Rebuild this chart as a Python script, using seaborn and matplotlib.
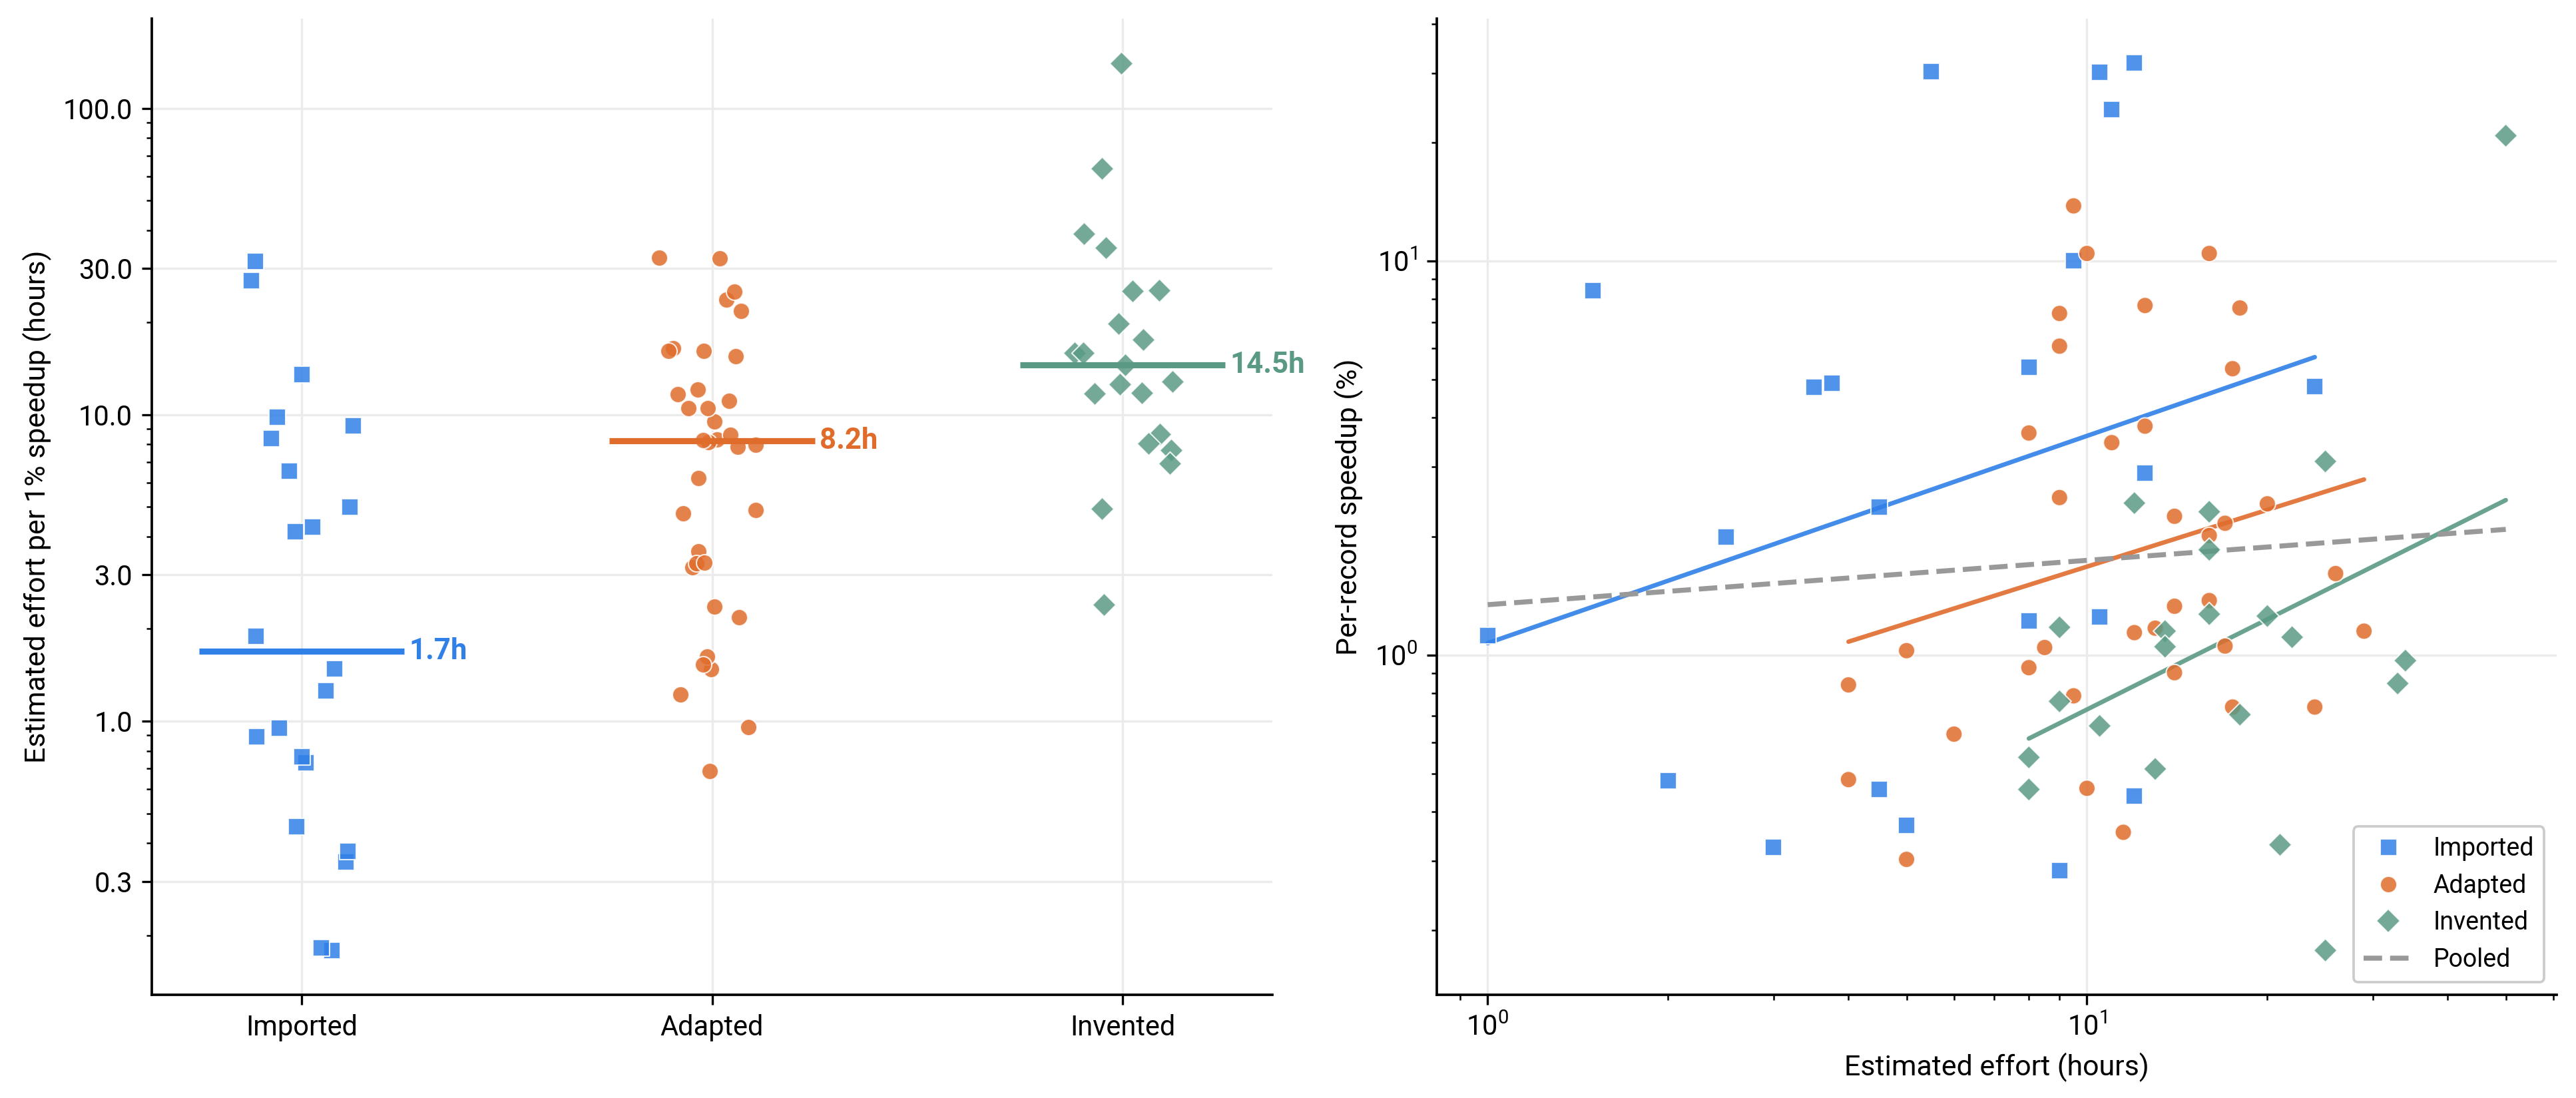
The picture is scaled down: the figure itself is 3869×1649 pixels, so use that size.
import numpy as np
import pandas as pd
import matplotlib
matplotlib.use("Agg")
import matplotlib.pyplot as plt
import seaborn as sns
from matplotlib.ticker import FormatStrFormatter, LogLocator, NullFormatter
from matplotlib.lines import Line2D

# ---------------- data ----------------
groups = ["Imported", "Adapted", "Invented"]

imported_effort = [1.0, 1.5, 2.0, 2.5, 3.0, 3.5, 3.75, 4.5, 4.5, 5.0, 5.5,
                   8.0, 8.0, 9.0, 9.5, 10.5, 10.5, 11.0, 12.0, 12.0, 12.5, 24.0]
imported_speedup = [1.12, 8.4, 0.48, 1.99, 0.325, 4.78, 4.9, 2.37, 0.457, 0.369, 30.2,
                    5.38, 1.22, 0.284, 10.0, 30.1, 1.25, 24.2, 31.8, 0.438, 2.9, 4.8]

adapted_effort = [4.0, 4.0, 5.0, 5.0, 6.0, 8.0, 8.0, 8.5, 9.0, 9.0, 9.0, 9.5,
                  9.5, 10.0, 10.0, 11.0, 11.5, 12.0, 12.5, 12.5, 13.0, 14.0, 14.0, 14.0,
                  16.0, 16.0, 16.0, 17.0, 17.0, 17.5, 17.5, 18.0, 20.0, 24.0, 26.0, 29.0]
adapted_speedup = [0.84, 0.483, 1.026, 0.303, 0.63, 3.66, 0.929, 1.045, 7.36, 6.08, 2.51, 13.8,
                   0.788, 10.45, 0.459, 3.46, 0.355, 1.14, 7.71, 3.81, 1.17, 2.25, 1.33, 0.902,
                   10.45, 2.01, 1.375, 2.16, 1.054, 5.33, 0.738, 7.6, 2.42, 0.738, 1.61, 1.15]

invented_effort = [8.0, 8.0, 9.0, 9.0, 10.5, 12.0, 13.0, 13.5, 13.5, 16.0, 16.0,
                   16.0, 18.0, 20.0, 21.0, 22.0, 25.0, 25.0, 33.0, 34.0, 50.0]
invented_speedup = [0.55, 0.456, 1.176, 0.763, 0.661, 2.43, 0.514, 1.15, 1.05, 2.31, 1.85,
                    1.27, 0.706, 1.256, 0.33, 1.11, 3.1, 0.178, 0.847, 0.968, 20.8]

colors = {"Imported": "#3080E8", "Adapted": "#E06C2C", "Invented": "#5A9A84"}
markers = {"Imported": "s", "Adapted": "o", "Invented": "D"}
pooled_color = "#999999"

# ---------------- style ----------------
sns.set_style("ticks")
plt.rcParams["font.family"] = ["Roboto", "DejaVu Sans"]
plt.rcParams["mathtext.fontset"] = "custom"
plt.rcParams["mathtext.rm"] = "Roboto"
plt.rcParams["mathtext.it"] = "Roboto:italic"
plt.rcParams["mathtext.bf"] = "Roboto:bold"
for k in ["axes.edgecolor", "text.color", "axes.labelcolor", "xtick.color", "ytick.color"]:
    plt.rcParams[k] = "black"
plt.rcParams["axes.linewidth"] = 0.9

df = pd.concat([
    pd.DataFrame({"group": "Imported", "effort": imported_effort, "speedup": imported_speedup}),
    pd.DataFrame({"group": "Adapted", "effort": adapted_effort, "speedup": adapted_speedup}),
    pd.DataFrame({"group": "Invented", "effort": invented_effort, "speedup": invented_speedup}),
], ignore_index=True)
df["per1"] = df["effort"] / df["speedup"]

W, H = 3869, 1649
fig = plt.figure(figsize=(W / 300, H / 300), dpi=300)
top, bot = 28, 1494
ax1 = fig.add_axes([228 / W, 1 - bot / H, (1911 - 228) / W, (bot - top) / H])
ax2 = fig.add_axes([2158 / W, 1 - bot / H, (3840 - 2158) / W, (bot - top) / H])

grid_kw = dict(color="#ebebeb", linewidth=0.8)
TICK_FS, LABEL_FS = 10, 10.3

# ---------------- left: strip plot ----------------
np.random.seed(7)
for g in groups:
    sub = df[df["group"] == g]
    sns.stripplot(data=sub, x="group", y="per1", order=groups, jitter=0.13,
                  marker=markers[g], color=colors[g], size=6, alpha=0.85,
                  edgecolor="white", linewidth=0.5, ax=ax1, zorder=2)
ax1.set_yscale("log")
ax1.set_yticks([0.3, 1, 3, 10, 30, 100])
ax1.yaxis.set_major_formatter(FormatStrFormatter("%.1f"))
ax1.yaxis.set_minor_locator(LogLocator(base=10, subs=np.arange(2, 10)))
ax1.yaxis.set_minor_formatter(NullFormatter())

for i, g in enumerate(groups):
    med = np.median(df.loc[df["group"] == g, "per1"])
    ax1.hlines(med, i - 0.25, i + 0.25, color=colors[g], linewidth=2.2, zorder=4)
    ax1.text(i + 0.262, med, f"{med:.1f}h", color=colors[g], fontsize=10.5,
             fontweight="bold", va="center", ha="left", zorder=5)

ax1.set_xlim(-0.365, 2.365)
ax1.set_xlabel("")
ax1.set_ylabel("Estimated effort per 1% speedup (hours)", fontsize=LABEL_FS)
ax1.grid(True, which="major", **grid_kw)
ax1.xaxis.grid(True, **grid_kw)
ax1.set_axisbelow(True)
ax1.tick_params(labelsize=TICK_FS)
sns.despine(ax=ax1)

# ---------------- right: scatter + log-log fits ----------------
for g in groups:
    sub = df[df["group"] == g]
    lx, ly = np.log10(sub["effort"]), np.log10(sub["speedup"])
    b, a = np.polyfit(lx, ly, 1)
    xs = np.geomspace(sub["effort"].min(), sub["effort"].max(), 50)
    ax2.plot(xs, 10 ** (a + b * np.log10(xs)), color=colors[g], lw=1.6, alpha=0.9, zorder=1.5)

b, a = np.polyfit(np.log10(df["effort"]), np.log10(df["speedup"]), 1)
xs = np.geomspace(df["effort"].min(), df["effort"].max(), 50)
ax2.plot(xs, 10 ** (a + b * np.log10(xs)), color=pooled_color, lw=1.8, ls="--", zorder=1.6)

sns.scatterplot(data=df, x="effort", y="speedup", hue="group", style="group",
                hue_order=groups, style_order=groups, palette=colors, markers=markers,
                s=36, alpha=0.85, edgecolor="white", linewidth=0.5, legend=False,
                ax=ax2, zorder=2)
ax2.set_xscale("log")
ax2.set_yscale("log")
ax2.set_xlabel("Estimated effort (hours)", fontsize=LABEL_FS)
ax2.set_ylabel("Per-record speedup (%)", fontsize=LABEL_FS)
ax2.grid(True, which="major", **grid_kw)
ax2.set_axisbelow(True)
ax2.tick_params(labelsize=TICK_FS)
sns.despine(ax=ax2)

handles = [Line2D([], [], ls="none", marker=markers[g], color=colors[g], alpha=0.85,
                  markersize=6, markeredgecolor="white", markeredgewidth=0.5, label=g)
           for g in groups]
handles.append(Line2D([], [], color=pooled_color, lw=1.8, ls="--", label="Pooled"))
leg = ax2.legend(handles=handles, loc="lower right", fontsize=9, frameon=True,
                 fancybox=True, framealpha=1.0, edgecolor="#cccccc")
leg.get_frame().set_linewidth(0.9)

fig.savefig("out.png", dpi=300)
